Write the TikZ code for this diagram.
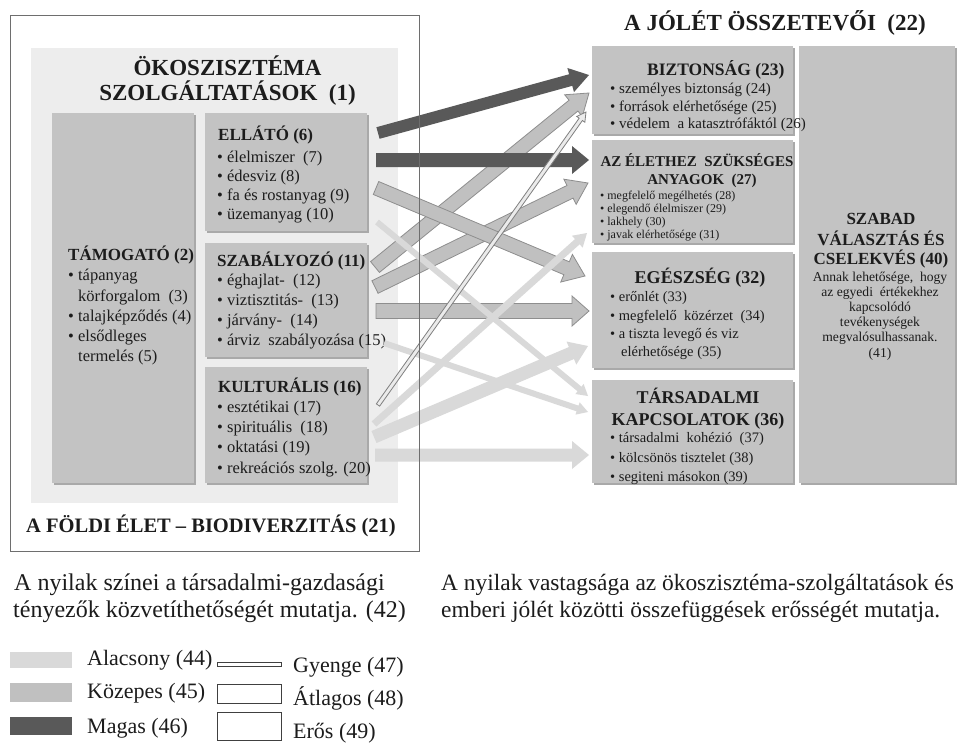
\documentclass[tikz,border=0pt]{standalone}
\usepackage{fontspec}
\setmainfont{Liberation Serif}
\usetikzlibrary{calc,shadows}
\definecolor{panelc}{HTML}{EDEDED}
\definecolor{boxg}{HTML}{C3C3C3}
\definecolor{boxsh}{HTML}{A9A9A9}
\definecolor{dk}{HTML}{595959}
\definecolor{md}{HTML}{C0C0C0}
\definecolor{mdl}{HTML}{8E8E8E}
\definecolor{lt}{HTML}{D9D9D9}
\definecolor{framec}{HTML}{6E6E6E}
\definecolor{txt}{HTML}{1C1C1C}
\newcommand\fatarr[6]{%
  \coordinate (fa-c) at ($(#2)!#5!(#1)$);
  \path[#6] ($(#1)!#3!90:(#2)$) -- ($(fa-c)!#3!90:(#2)$) -- ($(fa-c)!#4!90:(#2)$) -- (#2)
    -- ($(fa-c)!#4!-90:(#2)$) -- ($(fa-c)!#3!-90:(#2)$) -- ($(#1)!#3!-90:(#2)$) -- cycle;}
\tikzset{
  panelbox/.style={fill=panelc, draw=none, inner sep=0pt, anchor=north west},
  gbox/.style={fill=boxg, draw=none, inner sep=0pt, anchor=north west,
     general shadow={fill=boxsh, shadow xshift=1.5pt, shadow yshift=-1.5pt}},
  hd/.style={inner sep=0pt, anchor=base west, text=txt, font=\bfseries\fontsize{17}{20}\selectfont},
  it/.style={inner sep=0pt, anchor=base west, text=txt, font=\fontsize{16.5}{19}\selectfont},
  ttl/.style={inner sep=0pt, anchor=base, text=txt, font=\bfseries\fontsize{23}{28}\selectfont},
  rit/.style={inner sep=0pt, anchor=base west, text=txt, font=\fontsize{14.5}{17}\selectfont},
  sit/.style={inner sep=0pt, anchor=base west, text=txt, font=\fontsize{12}{13}\selectfont},
  rhd/.style={inner sep=0pt, anchor=base, text=txt, font=\bfseries\fontsize{18}{20}\selectfont},
  shd/.style={inner sep=0pt, anchor=base, text=txt, font=\bfseries\fontsize{17}{20}\selectfont},
  ctx/.style={inner sep=0pt, anchor=base, text=txt, font=\fontsize{13.6}{15}\selectfont},
  capt/.style={inner sep=0pt, anchor=base west, text=txt, font=\fontsize{24}{27}\selectfont},
  lab/.style={inner sep=0pt, anchor=base west, text=txt, font=\fontsize{22}{24}\selectfont},
  sw/.style={inner sep=0pt, anchor=north west, draw=none},
  thk/.style={inner sep=0pt, anchor=north west, fill=white, draw=black!75, line width=0.8pt},
  darr/.style={fill=dk, draw=none},
  marr/.style={fill=md, draw=mdl, line width=0.8pt, line join=miter},
  larr/.style={fill=lt, draw=none},
  warr/.style={fill=black!8, draw=mdl!90!black, line width=0.8pt, line join=miter}
}
\begin{document}
\begin{tikzpicture}[x=1pt,y=-1pt]
\fill[white] (0,0) rectangle (958,742);
\useasboundingbox (0,0) rectangle (958,742);

% ---------- left panel ----------
\node[panelbox, minimum width=367pt, minimum height=455pt] (panel) at (31,48) {};
\node[ttl] (t1a) at (227.5,75) {ÖKOSZISZTÉMA};
\node[ttl] (t1b) at (227.5,100) {SZOLGÁLTATÁSOK~ (1)};

\node[gbox, minimum width=142pt, minimum height=370pt] (tam) at (52,113) {};
\node[gbox, minimum width=162pt, minimum height=118pt] (ell) at (205,113) {};
\node[gbox, minimum width=162pt, minimum height=114pt] (sza) at (205,243) {};
\node[gbox, minimum width=162pt, minimum height=116pt] (kul) at (205,367) {};

\node[hd] (tam-h) at (68,260) {TÁMOGATÓ (2)};
\node[it] (tam-1) at (68,280) {• tápanyag};
\node[it] (tam-2) at (78,301) {körforgalom~ (3)};
\node[it] (tam-3) at (68,321) {• talajképződés (4)};
\node[it] (tam-4) at (68,341) {• elsődleges};
\node[it] (tam-5) at (78,361) {termelés (5)};

\node[hd] (ell-h) at (218,140) {ELLÁTÓ (6)};
\node[it] (ell-1) at (217,162) {• élelmiszer~ (7)};
\node[it] (ell-2) at (217,181) {• édesviz (8)};
\node[it] (ell-3) at (217,200) {• fa és rostanyag (9)};
\node[it] (ell-4) at (217,219) {• üzemanyag (10)};

\node[hd] (sza-h) at (217,266) {SZABÁLYOZÓ (11)};
\node[it] (sza-1) at (217,285) {• éghajlat-~ (12)};
\node[it] (sza-2) at (217,305) {• viztisztitás-~ (13)};
\node[it] (sza-3) at (217,325) {• járvány-~ (14)};
\node[it] (sza-4) at (217,345) {• árviz~ szabályozása (15)};

\node[hd] (kul-h) at (218,392) {KULTURÁLIS (16)};
\node[it] (kul-1) at (217,412) {• esztétikai (17)};
\node[it] (kul-2) at (217,432) {• spirituális~ (18)};
\node[it] (kul-3) at (217,452) {• oktatási (19)};
\node[it] (kul-4) at (217,473) {• rekreációs szolg. (20)};

\node[inner sep=0pt, anchor=base, text=txt, font=\bfseries\fontsize{20.5}{24}\selectfont] (bio) at (211,532) {A FÖLDI ÉLET – BIODIVERZITÁS (21)};

% ---------- right side ----------
\node[ttl] (jt) at (775,30) {A JÓLÉT ÖSSZETEVŐI~ (22)};
\node[gbox, minimum width=201pt, minimum height=88pt] (biz) at (592,46) {};
\node[gbox, minimum width=201pt, minimum height=103pt] (azel) at (592,140) {};
\node[gbox, minimum width=201pt, minimum height=116pt] (ege) at (592,252) {};
\node[gbox, minimum width=201pt, minimum height=103pt] (tar) at (592,380) {};
\node[gbox, minimum width=156pt, minimum height=437pt] (szab) at (799,46) {};

\node[hd, font=\bfseries\fontsize{17.5}{20}\selectfont] (biz-h) at (647,75) {BIZTONSÁG (23)};
\node[rit, font=\fontsize{15}{17}\selectfont] (biz-1) at (610,93) {• személyes biztonság (24)};
\node[rit, font=\fontsize{15}{17}\selectfont] (biz-2) at (610,111) {• források elérhetősége (25)};
\node[rit, font=\fontsize{15}{17}\selectfont] (biz-3) at (610,128) {• védelem~ a katasztrófáktól (26)};

\node[inner sep=0pt, anchor=base, text=txt, font=\bfseries\fontsize{15}{17}\selectfont] (az-h1) at (697,166) {AZ ÉLETHEZ~ SZÜKSÉGES};
\node[inner sep=0pt, anchor=base, text=txt, font=\bfseries\fontsize{15}{17}\selectfont] (az-h2) at (702,184) {ANYAGOK~ (27)};
\node[sit] (az-1) at (600,199) {• megfelelő megélhetés (28)};
\node[sit] (az-2) at (600,212) {• elegendő élelmiszer (29)};
\node[sit] (az-3) at (600,225) {• lakhely (30)};
\node[sit] (az-4) at (600,238) {• javak elérhetősége (31)};

\node[rhd] (ege-h) at (700,283) {EGÉSZSÉG (32)};
\node[rit] (ege-1) at (610,301) {• erőnlét (33)};
\node[rit] (ege-2) at (610,320) {• megfelelő~ közérzet~ (34)};
\node[rit] (ege-3) at (610,338) {• a tiszta levegő és viz};
\node[rit] (ege-4) at (621,356) {elérhetősége (35)};

\node[rhd] (tar-h1) at (698,403) {TÁRSADALMI};
\node[rhd] (tar-h2) at (698,425) {KAPCSOLATOK (36)};
\node[rit] (tar-1) at (610,442) {• társadalmi~ kohézió~ (37)};
\node[rit] (tar-2) at (610,462) {• kölcsönös tisztelet (38)};
\node[rit] (tar-3) at (610,481) {• segiteni másokon (39)};

\node[shd] (sz-h1) at (881,224) {SZABAD};
\node[shd] (sz-h2) at (881,245) {VÁLASZTÁS ÉS};
\node[shd] (sz-h3) at (881,264) {CSELEKVÉS (40)};
\node[ctx] (sz-1) at (880,281) {Annak lehetősége,~ hogy};
\node[ctx] (sz-2) at (880,296) {az egyedi~ értékekhez};
\node[ctx] (sz-3) at (880,311) {kapcsolódó};
\node[ctx] (sz-4) at (880,326) {tevékenységek};
\node[ctx] (sz-5) at (880,341) {megvalósulhassanak.};
\node[ctx] (sz-6) at (880,357) {(41)};

% ---------- arrows ----------
\coordinate (a1s) at (378,133);  \coordinate (a1e) at (589,75);
\coordinate (a2s) at (376,160);  \coordinate (a2e) at (589,160);
\coordinate (a3s) at (376,188);  \coordinate (a3e) at (585,276);
\coordinate (a4s) at (377,222);  \coordinate (a4e) at (588,396);
\coordinate (a5s) at (375,267);  \coordinate (a5e) at (589,93);
\coordinate (a6s) at (375,287);  \coordinate (a6e) at (588,183);
\coordinate (a7s) at (376,311);  \coordinate (a7e) at (589,311);
\coordinate (a8s) at (384,343);  \coordinate (a8e) at (588,412);
\coordinate (a9s) at (378,405);  \coordinate (a9e) at (586,112);
\coordinate (a10s) at (374,424); \coordinate (a10e) at (587,233);
\coordinate (a11s) at (374,437); \coordinate (a11e) at (588,346);
\coordinate (a12s) at (375,455); \coordinate (a12e) at (589,455);

\fatarr{a5s}{a5e}{7pt}{14pt}{20pt}{marr}
\fatarr{a6s}{a6e}{7pt}{14pt}{20pt}{marr}
\fatarr{a7s}{a7e}{7.5pt}{15pt}{17pt}{marr}
\fatarr{a3s}{a3e}{7pt}{15pt}{20pt}{marr}
\fatarr{a4s}{a4e}{3pt}{6.5pt}{11pt}{larr}
\fatarr{a8s}{a8e}{3pt}{6.5pt}{11pt}{larr}
\fatarr{a10s}{a10e}{3.5pt}{8pt}{13pt}{larr}
\fatarr{a11s}{a11e}{6.5pt}{12.5pt}{18pt}{larr}
\fatarr{a12s}{a12e}{6.5pt}{14pt}{17pt}{larr}
\fatarr{a1s}{a1e}{6pt}{12.5pt}{19pt}{darr}
\fatarr{a2s}{a2e}{7pt}{14pt}{17pt}{darr}
\fatarr{a9s}{a9e}{2pt}{5pt}{9pt}{warr}

% outer frame on top
\node[draw=framec, line width=1.3pt, inner sep=0pt, anchor=north west, minimum width=409pt, minimum height=536pt] (outer) at (10,15) {};

% ---------- legend ----------
\node[capt] (cap1a) at (14,590) {A nyilak színei a társadalmi-gazdasági};
\node[capt] (cap1b) at (13,617) {tényezők közvetíthetőségét mutatja. (42)};
\node[capt, font=\fontsize{23.4}{27}\selectfont] (cap2a) at (441,590) {A nyilak vastagsága az ökoszisztéma-szolgáltatások és};
\node[capt, font=\fontsize{23.4}{27}\selectfont] (cap2b) at (441,617) {emberi jólét közötti összefüggések erősségét mutatja.};

\node[sw, fill=lt, minimum width=62pt, minimum height=16pt] (sw1) at (10,652) {};
\node[sw, fill=md, minimum width=62pt, minimum height=19pt] (sw2) at (10,683) {};
\node[sw, fill=dk, minimum width=62pt, minimum height=18pt] (sw3) at (10,717) {};
\node[lab] (lb1) at (87,665) {Alacsony (44)};
\node[lab] (lb2) at (87,698) {Közepes (45)};
\node[lab] (lb3) at (87,733) {Magas (46)};

\node[thk, minimum width=64pt, minimum height=4pt] (th1) at (217,662) {};
\node[thk, minimum width=64pt, minimum height=19pt] (th2) at (217,684) {};
\node[thk, minimum width=64pt, minimum height=28pt] (th3) at (217,712) {};
\node[lab] (lb4) at (293,672) {Gyenge (47)};
\node[lab] (lb5) at (293,705) {Átlagos (48)};
\node[lab] (lb6) at (293,738) {Erős (49)};
\end{tikzpicture}
\end{document}
